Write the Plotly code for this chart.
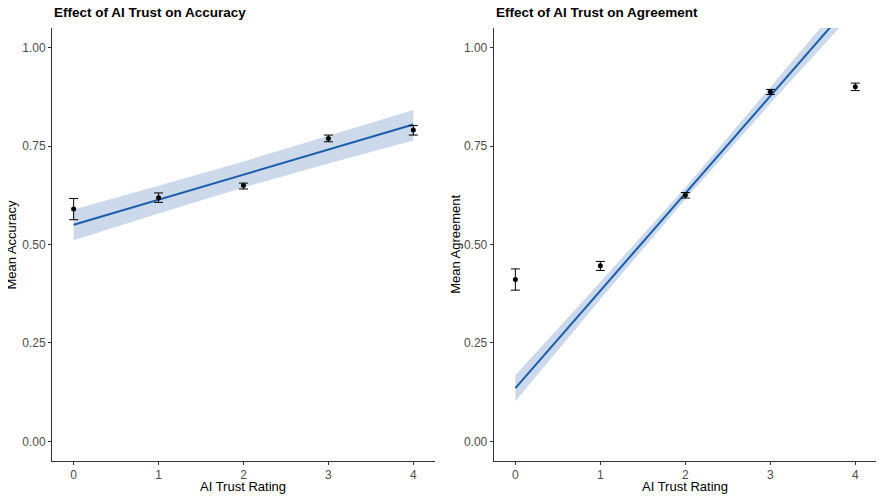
import plotly.graph_objects as go
from plotly.subplots import make_subplots

# AI trust rating levels
trust = [0, 1, 2, 3, 4]

# accuracy: group means and error bar limits
acc_mean = [0.590, 0.619, 0.650, 0.769, 0.791]
acc_hi = [0.617, 0.631, 0.656, 0.778, 0.802]
acc_lo = [0.563, 0.607, 0.641, 0.761, 0.778]
# accuracy: linear fit and its confidence band
acc_fit = [0.550, 0.614, 0.678, 0.741, 0.805]
acc_band_lo = [0.511, 0.579, 0.645, 0.706, 0.764]
acc_band_hi = [0.589, 0.649, 0.711, 0.776, 0.842]

# agreement: group means and error bar limits
agr_mean = [0.411, 0.446, 0.626, 0.888, 0.901]
agr_hi = [0.438, 0.457, 0.632, 0.894, 0.910]
agr_lo = [0.384, 0.434, 0.618, 0.881, 0.891]
# agreement: linear fit and its confidence band
agr_fit = [0.135, 0.383, 0.630, 0.878, 1.125]
agr_band_lo = [0.102, 0.361, 0.615, 0.858, 1.095]
agr_band_hi = [0.168, 0.405, 0.645, 0.898, 1.155]

y_ticks = [0, 0.25, 0.5, 0.75, 1.0]

BAND = "#cbd9eb"
LINE = "#1a5dab"
AXIS = "#333333"
TICKTXT = "#4d4d4d"
FONT = "Liberation Sans, Arial, Helvetica, sans-serif"

fig = make_subplots(rows=1, cols=2, horizontal_spacing=0.071)


def add_panel(col, mean, lo, hi, fit, band_lo, band_hi):
    fig.add_trace(go.Scatter(x=trust, y=band_lo, mode="lines", line=dict(width=0, color=BAND),
                             hoverinfo="skip", showlegend=False), row=1, col=col)
    fig.add_trace(go.Scatter(x=trust, y=band_hi, mode="lines", line=dict(width=0, color=BAND),
                             fill="tonexty", fillcolor=BAND, hoverinfo="skip", showlegend=False),
                  row=1, col=col)
    fig.add_trace(go.Scatter(x=trust, y=fit, mode="lines", line=dict(color=LINE, width=2),
                             showlegend=False), row=1, col=col)
    fig.add_trace(go.Scatter(
        x=trust, y=mean, mode="markers",
        marker=dict(color="black", size=5),
        error_y=dict(type="data", symmetric=False,
                     array=[h - m for h, m in zip(hi, mean)],
                     arrayminus=[m - l for m, l in zip(mean, lo)],
                     color="black", thickness=1, width=4.5),
        showlegend=False), row=1, col=col)


add_panel(1, acc_mean, acc_lo, acc_hi, acc_fit, acc_band_lo, acc_band_hi)
add_panel(2, agr_mean, agr_lo, agr_hi, agr_fit, agr_band_lo, agr_band_hi)

axis_style = dict(showline=True, linecolor=AXIS, linewidth=1, ticks="outside", ticklen=3,
                  tickcolor=AXIS, tickfont=dict(size=12, color=TICKTXT, family=FONT),
                  showgrid=False, zeroline=False)

for c in (1, 2):
    fig.update_xaxes(range=[-0.255, 4.255], tickvals=trust, row=1, col=c, **axis_style)
    fig.update_yaxes(range=[-0.05, 1.05], tickvals=y_ticks, tickformat=".2f", row=1, col=c,
                     **axis_style)

fig.update_layout(xaxis=dict(domain=[0, 0.4642]), xaxis2=dict(domain=[0.5354, 1.0]))

ann = []
for x0, title in [(0, "Effect of AI Trust on Accuracy"), (0.5354, "Effect of AI Trust on Agreement")]:
    ann.append(dict(text="<b>" + title + "</b>", x=x0, y=1.0347, xref="paper", yref="paper",
                    xanchor="left", yanchor="middle", showarrow=False,
                    font=dict(size=13.5, color="black", family=FONT)))
for xc in (0.2321, 0.7677):
    ann.append(dict(text="AI Trust Rating", x=xc, y=-0.0585, xref="paper", yref="paper",
                    xanchor="center", yanchor="middle", showarrow=False,
                    font=dict(size=13, color="black", family=FONT)))
for xc, t in [(-0.0485, "Mean Accuracy"), (0.4889, "Mean Agreement")]:
    ann.append(dict(text=t, x=xc, y=0.5, xref="paper", yref="paper", textangle=-90,
                    xanchor="center", yanchor="middle", showarrow=False,
                    font=dict(size=13, color="black", family=FONT)))

fig.update_layout(
    width=884, height=501,
    margin=dict(l=44, r=15, t=20, b=48),
    paper_bgcolor="white", plot_bgcolor="white",
    font=dict(family=FONT),
    annotations=ann,
)

fig.write_html("out.html")
